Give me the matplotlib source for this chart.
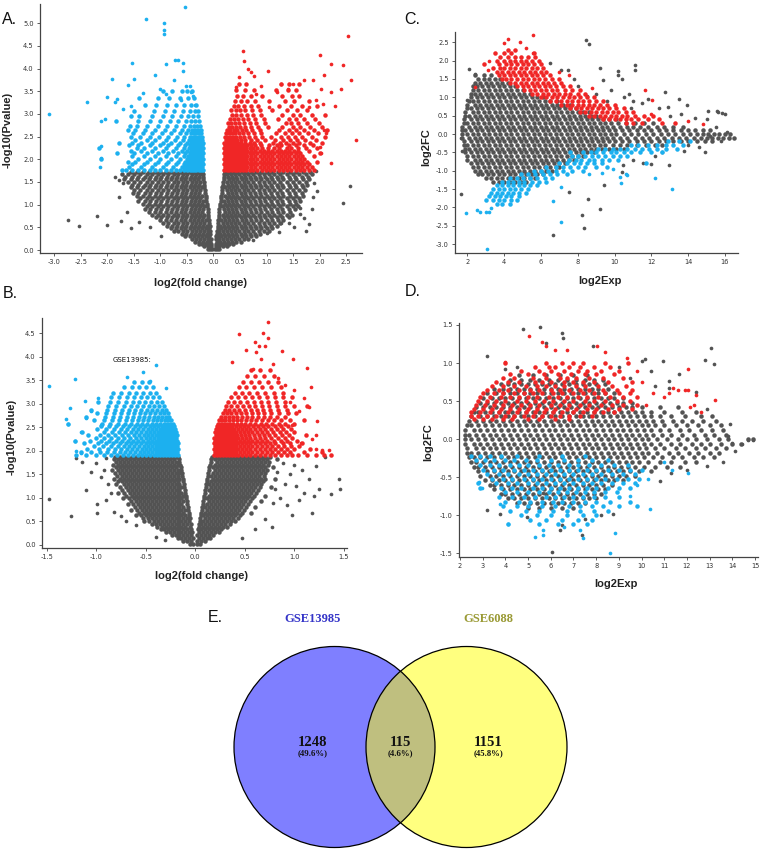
import numpy as np
import matplotlib
matplotlib.use("Agg")
import matplotlib.pyplot as plt
from matplotlib.patches import Circle

# ---------------- data ----------------
# rows format  "y: x1 x2 ..."   ;  pairs format "x,y x,y ..."
A_GRAY_L = """
0.03: -.02 -.06 -.1
0.08: -.05 -.11 -.18
0.13: -.04 -.08 -.15 -.22 -.28
0.18: -.06 -.13 -.2 -.27 -.35
0.24: -.05 -.11 -.18 -.25 -.33 -.41
0.30: -.08 -.15 -.22 -.29 -.37 -.45 -.53
0.36: -.06 -.13 -.2 -.27 -.35 -.43 -.51 -.6
0.42: -.07 -.11 -.18 -.25 -.33 -.41 -.49 -.57 -.66 -.75
0.48: -.08 -.15 -.22 -.29 -.37 -.45 -.53 -.62 -.71 -.8
0.54: -.07 -.13 -.2 -.27 -.35 -.43 -.51 -.6 -.69 -.78 -.88
0.60: -.09 -.18 -.25 -.33 -.41 -.49 -.57 -.66 -.75 -.85 -.95
0.66: -.09 -.15 -.22 -.29 -.37 -.45 -.53 -.62 -.71 -.8 -.9 -1.0
0.72: -.1 -.2 -.27 -.35 -.43 -.51 -.6 -.69 -.78 -.88 -.98 -1.08
0.78: -.1 -.18 -.25 -.33 -.41 -.49 -.57 -.66 -.75 -.85 -.95 -1.05 -1.15
0.84: -.11 -.22 -.29 -.37 -.45 -.53 -.62 -.71 -.8 -.9 -1.0 -1.1 -1.21
0.90: -.11 -.2 -.27 -.35 -.43 -.51 -.6 -.69 -.78 -.88 -.98 -1.08 -1.19 -1.3
0.96: -.12 -.18 -.25 -.33 -.41 -.49 -.57 -.66 -.75 -.85 -.95 -1.05 -1.15 -1.26
1.02: -.13 -.22 -.29 -.37 -.45 -.53 -.62 -.71 -.8 -.9 -1.0 -1.1 -1.21 -1.32
1.08: -.14 -.2 -.27 -.35 -.43 -.51 -.6 -.69 -.78 -.88 -.98 -1.08 -1.19 -1.3 -1.42
1.14: -.14 -.25 -.33 -.41 -.49 -.57 -.66 -.75 -.85 -.95 -1.05 -1.15 -1.26 -1.38
1.20: -.15 -.22 -.29 -.37 -.45 -.53 -.62 -.71 -.8 -.9 -1.0 -1.1 -1.21 -1.32 -1.44
1.26: -.16 -.27 -.35 -.43 -.51 -.6 -.69 -.78 -.88 -.98 -1.08 -1.19 -1.3 -1.42 -1.52
1.32: -.16 -.25 -.33 -.41 -.49 -.57 -.66 -.75 -.85 -.95 -1.05 -1.15 -1.26 -1.38 -1.5
1.38: -.17 -.22 -.29 -.37 -.45 -.53 -.62 -.71 -.8 -.9 -1.0 -1.1 -1.21 -1.32 -1.44 -1.56
1.44: -.18 -.27 -.35 -.43 -.51 -.6 -.69 -.78 -.88 -.98 -1.08 -1.19 -1.3 -1.42 -1.54
1.50: -.18 -.25 -.33 -.41 -.49 -.57 -.66 -.75 -.85 -.95 -1.05 -1.15 -1.26 -1.38 -1.5 -1.62
1.56: -.19 -.29 -.37 -.45 -.53 -.62 -.71 -.8 -.9 -1.0 -1.1 -1.21 -1.32 -1.44 -1.56 -1.68
1.62: -.19 -.27 -.35 -.43 -.51 -.6 -.69 -.78 -.88 -.98 -1.08 -1.19 -1.3 -1.42 -1.54 -1.66
1.68: -.2 -.25 -.33 -.41 -.49 -.57 -.66 -.75 -.85 -.95 -1.05 -1.15 -1.26 -1.38 -1.5 -1.62 -1.72
1.72: -.21 -.29 -.37 -.45 -.53 -.62 -.71 -.8 -.9 -1.0 -1.1 -1.21 -1.32 -1.44 -1.56
"""
A_GRAY_R = """
0.03: .02 .06 .1
0.08: .05 .11 .18 .25
0.13: .04 .08 .15 .22 .29 .37
0.18: .06 .13 .2 .27 .35 .43 .51
0.24: .05 .11 .18 .25 .33 .41 .49 .57 .66
0.30: .05 .08 .15 .22 .29 .37 .45 .53 .62 .71 .8
0.36: .06 .13 .2 .27 .35 .43 .51 .6 .69 .78 .88
0.42: .07 .11 .18 .25 .33 .41 .49 .57 .66 .75 .85 .95 1.05
0.48: .08 .15 .22 .29 .37 .45 .53 .62 .71 .8 .9 1.0 1.1
0.54: .08 .13 .2 .27 .35 .43 .51 .6 .69 .78 .88 .98 1.08 1.19
0.60: .09 .18 .25 .33 .41 .49 .57 .66 .75 .85 .95 1.05 1.15 1.26
0.66: .09 .15 .22 .29 .37 .45 .53 .62 .71 .8 .9 1.0 1.1 1.21 1.32
0.72: .1 .2 .27 .35 .43 .51 .6 .69 .78 .88 .98 1.08 1.19 1.3 1.42
0.78: .1 .18 .25 .33 .41 .49 .57 .66 .75 .85 .95 1.05 1.15 1.26 1.38 1.48
0.84: .11 .22 .29 .37 .45 .53 .62 .71 .8 .9 1.0 1.1 1.21 1.32 1.44
0.90: .11 .2 .27 .35 .43 .51 .6 .69 .78 .88 .98 1.08 1.19 1.3 1.42 1.54
0.96: .12 .18 .25 .33 .41 .49 .57 .66 .75 .85 .95 1.05 1.15 1.26 1.38 1.5 1.6
1.02: .13 .22 .29 .37 .45 .53 .62 .71 .8 .9 1.0 1.1 1.21 1.32 1.44 1.56
1.08: .14 .2 .27 .35 .43 .51 .6 .69 .78 .88 .98 1.08 1.19 1.3 1.42 1.54 1.64
1.14: .14 .25 .33 .41 .49 .57 .66 .75 .85 .95 1.05 1.15 1.26 1.38 1.5 1.62
1.20: .15 .22 .29 .37 .45 .53 .62 .71 .8 .9 1.0 1.1 1.21 1.32 1.44 1.56 1.68
1.26: .16 .27 .35 .43 .51 .6 .69 .78 .88 .98 1.08 1.19 1.3 1.42 1.54 1.66
1.32: .16 .25 .33 .41 .49 .57 .66 .75 .85 .95 1.05 1.15 1.26 1.38 1.5 1.62 1.73
1.38: .17 .22 .29 .37 .45 .53 .62 .71 .8 .9 1.0 1.1 1.21 1.32 1.44 1.56 1.68
1.44: .18 .27 .35 .43 .51 .6 .69 .78 .88 .98 1.08 1.19 1.3 1.42 1.54 1.66 1.77
1.50: .18 .25 .33 .41 .49 .57 .66 .75 .85 .95 1.05 1.15 1.26 1.38 1.5 1.62 1.74
1.56: .19 .29 .37 .45 .53 .62 .71 .8 .9 1.0 1.1 1.21 1.32 1.44 1.56 1.68 1.8
1.62: .19 .27 .35 .43 .51 .6 .69 .78 .88 .98 1.08 1.19 1.3 1.42 1.54 1.66 1.78
1.68: .2 .25 .33 .41 .49 .57 .66 .75 .85 .95 1.05 1.15 1.26 1.38 1.5 1.62 1.74 1.86
1.72: .21 .29 .37 .45 .53 .62 .71 .8 .9 1.0 1.1 1.21 1.32 1.44 1.56 1.68 1.82
"""
A_GRAY_X = """-2.74,.66 -2.54,.54 -2.19,.76 -2.01,.55 -1.75,.64 -1.56,.48 -1.63,.84 -1.79,1.17
-1.79,1.54 -1.71,1.48 -.99,.31 2.57,1.42 2.45,1.03 1.75,.42 1.81,.57 1.87,1.17 1.9,1.48 1.93,1.75
1.24,.39 1.01,.37 .74,.22 1.27,.59 1.43,.6 1.51,.51 1.63,.79 1.63,.92 -1.85,1.6 -1.2,.5 -1.4,.62
1.95,1.3 1.85,.9 1.7,.7"""
A_UP = """
1.77: .2 .25 .3 .35 .4 .45 .5 .55 .61 .68 .75 .83 .91 .99 1.07 1.15 1.23 1.31 1.39 1.47 1.55 1.63 1.71 1.8 1.9
1.83: .22 .27 .32 .37 .42 .47 .52 .58 .64 .71 .79 .87 .95 1.03 1.11 1.19 1.27 1.35 1.43 1.51 1.59 1.67 1.76 1.86
1.89: .2 .25 .3 .35 .4 .45 .5 .55 .61 .68 .75 .83 .91 .99 1.07 1.15 1.23 1.31 1.39 1.47 1.55 1.63 1.71 1.8
1.95: .22 .27 .32 .37 .42 .47 .52 .58 .64 .71 .79 .87 .95 1.03 1.11 1.19 1.27 1.35 1.43 1.51 1.59 1.67 1.76 1.95
2.01: .2 .25 .3 .35 .4 .45 .5 .55 .61 .68 .75 .83 .91 .99 1.07 1.15 1.23 1.31 1.39 1.47 1.55 1.63 1.71
2.07: .22 .27 .32 .37 .42 .47 .52 .58 .64 .71 .79 .87 .95 1.03 1.11 1.19 1.27 1.35 1.43 1.51 1.59 1.67 1.9
2.13: .2 .25 .3 .35 .4 .45 .5 .55 .61 .68 .75 .83 .91 .99 1.07 1.15 1.23 1.31 1.39 1.47 1.55 1.63 2.0
2.19: .22 .27 .32 .37 .42 .47 .52 .58 .64 .71 .79 .87 .95 1.03 1.11 1.19 1.27 1.35 1.43 1.51 1.59 1.8
2.25: .2 .25 .3 .35 .4 .45 .5 .55 .61 .68 .75 .83 .91 1.03 1.15 1.23 1.39 1.47 1.6 1.75 1.95
2.31: .22 .27 .32 .37 .42 .47 .52 .58 .64 .71 .79 .9 1.05 1.19 1.27 1.43 1.55 1.7 1.88
2.37: .2 .25 .3 .35 .4 .46 .52 .6 .68 .77 .88 1.12 1.25 1.36 1.5 1.62 1.82 2.05
2.43: .23 .28 .33 .39 .45 .52 .6 .7 .82 .97 1.16 1.31 1.44 1.58 1.72 1.94
2.50: .21 .26 .31 .37 .43 .5 .58 .67 .78 .92 1.08 1.28 1.4 1.53 1.66 1.86 2.1
2.57: .24 .29 .35 .41 .48 .56 .65 .76 .9 1.18 1.35 1.48 1.62 1.78 1.97
2.64: .26 .32 .38 .45 .53 .62 .73 .87 1.24 1.42 1.56 1.7 1.9 2.14
2.72: .29 .35 .42 .5 .59 .7 .84 1.02 1.3 1.5 1.64 1.82 2.05
2.80: .27 .33 .4 .48 .57 .68 .8 .98 1.36 1.46 1.6 1.76 1.98
2.89: .31 .38 .46 .55 .66 .78 .95 1.22 1.42 1.55 1.7 1.92
2.98: .35 .43 .52 .63 .75 .9 1.3 1.5 1.63 1.86 2.1
3.08: .33 .42 .5 .6 .72 .88 1.1 1.38 1.58 1.76
3.18: .38 .47 .58 .7 .84 1.24 1.46 1.66 1.95
3.29: .4 .52 .64 .78 1.05 1.35 1.52 1.8
3.40: .45 .56 .7 .92 1.3 1.48 1.62
3.52: .42 .6 .76 1.18 1.4 1.56
3.65: .48 .62 1.27 1.43 1.62
"""
A_UP_X = """.55,4.38 .58,4.16 .65,4.0 .71,3.93 .77,3.83 .49,3.82 .43,3.6 1.02,3.95 1.27,3.67 1.2,3.49
1.49,3.66 1.4,3.56 1.7,3.74 1.87,3.74 2.0,4.31 2.08,3.85 2.22,4.11 2.53,4.72 2.45,4.07 2.59,3.74
2.4,3.56 2.69,2.42 2.22,1.91 2.03,3.54 2.22,3.49 2.29,3.17 2.06,3.23 2.12,2.57 2.09,2.64 2.0,2.28
2.03,2.13 1.93,3.3 1.8,3.16 1.05,3.15 .8,3.45 .9,3.62"""
A_DOWN = """
1.77: -.2 -.24 -.28 -.32 -.36 -.4 -.45 -.5 -.56 -.63 -.71 -.8 -.9 -1.0 -1.1 -1.2 -1.31 -1.42 -1.53 -1.64 -1.73
1.83: -.22 -.26 -.3 -.34 -.38 -.43 -.48 -.53 -.6 -.76 -.95 -1.15 -1.37 -1.59
1.89: -.2 -.24 -.28 -.32 -.36 -.4 -.45 -.5 -.56 -.71 -.9 -1.1 -1.31 -1.53
1.95: -.22 -.26 -.3 -.34 -.38 -.43 -.48 -.53 -.67 -.85 -1.05 -1.26 -1.48 -1.62
2.01: -.2 -.24 -.28 -.32 -.36 -.4 -.45 -.5 -.63 -.8 -1.0 -1.2 -1.42 -2.12
2.07: -.22 -.26 -.3 -.34 -.38 -.43 -.48 -.56 -.71 -.9 -1.1 -1.31 -1.53
2.13: -.2 -.24 -.28 -.32 -.36 -.4 -.45 -.53 -.67 -.85 -1.05 -1.26 -1.5 -1.82
2.19: -.22 -.26 -.3 -.34 -.38 -.43 -.5 -.6 -.76 -.95 -1.15 -1.37 -1.56
2.25: -.2 -.24 -.28 -.32 -.36 -.41 -.47 -.56 -.71 -.9 -1.1 -1.31 -1.45 -2.15
2.31: -.22 -.26 -.3 -.34 -.39 -.45 -.53 -.67 -.85 -1.0 -1.2 -1.42 -1.6
2.37: -.2 -.24 -.28 -.32 -.37 -.43 -.5 -.63 -.8 -.95 -1.15 -1.37 -1.53 -1.78
2.43: -.22 -.26 -.3 -.35 -.4 -.47 -.58 -.72 -.9 -1.1 -1.26 -1.48
2.50: -.21 -.25 -.29 -.34 -.39 -.45 -.55 -.68 -.85 -1.02 -1.2 -1.38 -1.56
2.57: -.23 -.27 -.32 -.37 -.43 -.52 -.64 -.8 -.97 -1.15 -1.33 -1.52
2.65: -.24 -.29 -.34 -.4 -.48 -.6 -.75 -.92 -1.1 -1.3 -1.48 -1.62
2.74: -.26 -.31 -.37 -.45 -.56 -.7 -.87 -1.05 -1.25 -1.45 -1.57
2.84: -.28 -.34 -.42 -.52 -.66 -.82 -1.0 -1.2 -1.42 -1.84
2.95: -.3 -.38 -.48 -.62 -.78 -.95 -1.15 -1.4 -1.56
3.07: -.29 -.35 -.45 -.58 -.74 -.92 -1.12 -1.5
3.20: -.33 -.42 -.55 -.7 -.88 -1.08 -1.3
3.35: -.37 -.48 -.64 -.84 -1.05 -1.4
3.50: -.4 -.5 -.6 -.78 -.95
"""
A_DOWN_X = """-3.1,2.99 -2.38,3.27 -2.12,2.85 -2.05,2.88 -2.12,2.3 -2.12,2.02 -2.13,1.84 -2.0,3.38
-1.91,3.77 -1.86,3.27 -1.81,3.32 -1.61,3.63 -1.53,4.13 -1.5,3.78 -1.27,5.09 -1.11,3.85 -.94,5.01
-.94,4.86 -.94,4.77 -.9,4.11 -.75,3.74 -.73,4.2 -.66,4.2 -.58,4.13 -.58,3.94 -.53,5.36 -.51,3.61
-.45,3.61 -.89,3.44 -1.33,3.47 -1.55,3.18 -1.7,3.1 -.42,3.48 -.38,3.4 -.35,3.2 -.62,3.3 -1.0,3.55"""

B_GRAY_L = """
0.03: -.02 -.05
0.09: -.04 -.08 -.12
0.15: -.02 -.06 -.1 -.14 -.18
0.21: -.04 -.08 -.12 -.16 -.2 -.24
0.27: -.03 -.06 -.1 -.14 -.18 -.22 -.26 -.3
0.33: -.04 -.08 -.12 -.16 -.2 -.24 -.28 -.32 -.35
0.39: -.05 -.1 -.14 -.18 -.22 -.26 -.3 -.34 -.39
0.45: -.04 -.08 -.12 -.16 -.2 -.24 -.28 -.32 -.36 -.4 -.44
0.51: -.06 -.1 -.14 -.18 -.22 -.26 -.3 -.34 -.38 -.42 -.47 -.52
0.57: -.05 -.08 -.12 -.16 -.2 -.24 -.28 -.32 -.36 -.4 -.44 -.48 -.53
0.63: -.06 -.1 -.14 -.18 -.22 -.26 -.3 -.34 -.38 -.42 -.46 -.5 -.55 -.6
0.69: -.06 -.12 -.16 -.2 -.24 -.28 -.32 -.36 -.4 -.44 -.48 -.52 -.57
0.75: -.07 -.1 -.14 -.18 -.22 -.26 -.3 -.34 -.38 -.42 -.46 -.5 -.54 -.59 -.65
0.81: -.07 -.12 -.16 -.2 -.24 -.28 -.32 -.36 -.4 -.44 -.48 -.52 -.56 -.61
0.87: -.08 -.14 -.18 -.22 -.26 -.3 -.34 -.38 -.42 -.46 -.5 -.54 -.58 -.63 -.68
0.93: -.08 -.12 -.16 -.2 -.24 -.28 -.32 -.36 -.4 -.44 -.48 -.52 -.56 -.6 -.65
0.99: -.09 -.14 -.18 -.22 -.26 -.3 -.34 -.38 -.42 -.46 -.5 -.54 -.58 -.62 -.67 -.73
1.05: -.09 -.12 -.16 -.2 -.24 -.28 -.32 -.36 -.4 -.44 -.48 -.52 -.56 -.6 -.64 -.7
1.11: -.1 -.14 -.18 -.22 -.26 -.3 -.34 -.38 -.42 -.46 -.5 -.54 -.58 -.62 -.66 -.72 -.78
1.17: -.1 -.16 -.2 -.24 -.28 -.32 -.36 -.4 -.44 -.48 -.52 -.56 -.6 -.64 -.68 -.74
1.23: -.11 -.14 -.18 -.22 -.26 -.3 -.34 -.38 -.42 -.46 -.5 -.54 -.58 -.62 -.66 -.7 -.76
1.29: -.11 -.16 -.2 -.24 -.28 -.32 -.36 -.4 -.44 -.48 -.52 -.56 -.6 -.64 -.68 -.72 -.8
1.35: -.12 -.18 -.22 -.26 -.3 -.34 -.38 -.42 -.46 -.5 -.54 -.58 -.62 -.66 -.7 -.74 -.78
1.41: -.12 -.16 -.2 -.24 -.28 -.32 -.36 -.4 -.44 -.48 -.52 -.56 -.6 -.64 -.68 -.72 -.76 -.82
1.47: -.13 -.18 -.22 -.26 -.3 -.34 -.38 -.42 -.46 -.5 -.54 -.58 -.62 -.66 -.7 -.74 -.79
1.53: -.13 -.16 -.2 -.24 -.28 -.32 -.36 -.4 -.44 -.48 -.52 -.56 -.6 -.64 -.68 -.72 -.76 -.81
1.59: -.14 -.18 -.22 -.26 -.3 -.34 -.38 -.42 -.46 -.5 -.54 -.58 -.62 -.66 -.7 -.74 -.78 -.84
1.65: -.14 -.2 -.24 -.28 -.32 -.36 -.4 -.44 -.48 -.52 -.56 -.6 -.64 -.68 -.72 -.76 -.8
1.71: -.15 -.18 -.22 -.26 -.3 -.34 -.38 -.42 -.46 -.5 -.54 -.58 -.62 -.66 -.7 -.74 -.78 -.83
1.77: -.16 -.2 -.24 -.28 -.32 -.36 -.4 -.44 -.48 -.52 -.56 -.6 -.64 -.68 -.72 -.76 -.8
1.83: -.16 -.22 -.26 -.3 -.34 -.38 -.42 -.46 -.5 -.54 -.58 -.62 -.66 -.7 -.74 -.78 -.82
1.88: -.17 -.2 -.24 -.28 -.32 -.36 -.4 -.44 -.48 -.52 -.56 -.6 -.64 -.68 -.72 -.76 -.81
"""
B_GRAY_R = """
0.03: .02 .05
0.09: .02 .06 .1
0.15: .04 .08 .12 .15
0.21: .02 .06 .1 .14 .18
0.27: .04 .08 .12 .16 .2 .24
0.33: .03 .06 .1 .14 .18 .22 .26
0.39: .04 .08 .12 .16 .2 .24 .28 .32
0.45: .04 .06 .1 .14 .18 .22 .26 .3 .35
0.51: .05 .08 .12 .16 .2 .24 .28 .32 .36 .4
0.57: .05 .1 .14 .18 .22 .26 .3 .34 .38 .43
0.63: .06 .08 .12 .16 .2 .24 .28 .32 .36 .4 .45
0.69: .06 .1 .14 .18 .22 .26 .3 .34 .38 .42 .47 .56
0.75: .07 .12 .16 .2 .24 .28 .32 .36 .4 .44 .49
0.81: .07 .1 .14 .18 .22 .26 .3 .34 .38 .42 .46 .51 .6
0.87: .08 .12 .16 .2 .24 .28 .32 .36 .4 .44 .48 .53
0.93: .08 .14 .18 .22 .26 .3 .34 .38 .42 .46 .5 .55 .66
0.99: .09 .12 .16 .2 .24 .28 .32 .36 .4 .44 .48 .52 .57
1.05: .09 .14 .18 .22 .26 .3 .34 .38 .42 .46 .5 .54 .59 .7
1.11: .1 .16 .2 .24 .28 .32 .36 .4 .44 .48 .52 .56 .61
1.17: .1 .14 .18 .22 .26 .3 .34 .38 .42 .46 .5 .54 .58 .63
1.23: .11 .16 .2 .24 .28 .32 .36 .4 .44 .48 .52 .56 .6 .65 .76
1.29: .11 .14 .18 .22 .26 .3 .34 .38 .42 .46 .5 .54 .58 .62 .66
1.35: .12 .16 .2 .24 .28 .32 .36 .4 .44 .48 .52 .56 .6 .64 .68
1.41: .12 .18 .22 .26 .3 .34 .38 .42 .46 .5 .54 .58 .62 .66 .7 .8
1.47: .13 .16 .2 .24 .28 .32 .36 .4 .44 .48 .52 .56 .6 .64 .69
1.53: .13 .18 .22 .26 .3 .34 .38 .42 .46 .5 .54 .58 .62 .66 .7
1.59: .14 .2 .24 .28 .32 .36 .4 .44 .48 .52 .56 .6 .64 .68 .72
1.65: .14 .18 .22 .26 .3 .34 .38 .42 .46 .5 .54 .58 .62 .66 .7 .78
1.71: .15 .2 .24 .28 .32 .36 .4 .44 .48 .52 .56 .6 .64 .68 .73
1.77: .16 .22 .26 .3 .34 .38 .42 .46 .5 .54 .58 .62 .66 .7 .74
1.83: .16 .2 .24 .28 .32 .36 .4 .44 .48 .52 .56 .6 .64 .68 .72 .82
1.88: .17 .22 .26 .3 .34 .38 .42 .46 .5 .54 .58 .62 .66 .7 .75
"""
B_GRAY_X = """-1.48,.98 -1.25,.62 -1.2,1.84 -1.1,1.17 -1.14,1.77 -.99,.67 -.99,.87 -.6,.43 -.7,.5 -.4,.18
-.31,.11 -.92,1.6 -.88,1.3 -.95,1.45 -1.0,1.75 -.9,1.85 -.85,1.1 -.9,.95 -1.05,1.55 -.82,.7 -.75,.62
1.45,1.4 1.46,1.18 1.37,1.09 1.31,1.86 1.22,1.67 1.18,.67 1.1,1.1 .98,.64 .77,.39 .47,.14 .85,1.0
.9,1.3 .95,1.5 1.0,1.7 .88,1.75 .8,1.2 .92,.85 1.05,.95 1.15,1.4 1.25,1.2 1.2,1.05 .7,.55 .6,.35
1.08,1.6 .82,1.55 .78,.9 1.02,1.25"""
B_UP = """
1.92: .19 .22 .25 .28 .31 .34 .37 .4 .43 .47 .51 .55 .6 .65 .7 .75 .8 .86 .92 .98 1.04 1.13 1.22 1.3 1.37
1.98: .2 .23 .26 .29 .32 .35 .38 .41 .45 .49 .53 .57 .62 .67 .72 .77 .83 .89 .95 1.1 1.28
2.04: .19 .22 .25 .28 .31 .34 .37 .4 .43 .47 .51 .55 .6 .65 .7 .75 .8 .86 .92 1.0 1.16
2.10: .2 .23 .26 .29 .32 .35 .38 .41 .45 .49 .53 .57 .62 .67 .72 .77 .83 .89 .97 1.05
2.16: .19 .22 .25 .28 .31 .34 .37 .4 .43 .47 .51 .55 .6 .65 .7 .75 .8 .88 .95 1.08
2.22: .2 .23 .26 .29 .32 .35 .38 .41 .45 .49 .53 .57 .62 .67 .72 .79 .86 .92 1.03
2.28: .19 .22 .25 .28 .31 .34 .37 .4 .43 .47 .51 .55 .6 .65 .7 .76 .83 .9 .98
2.34: .21 .24 .27 .3 .33 .36 .39 .42 .46 .5 .54 .59 .64 .69 .74 .8 .87 .94 1.12
2.40: .2 .23 .26 .29 .32 .35 .38 .41 .45 .49 .53 .57 .62 .67 .72 .78 .85 .91 1.0
2.46: .21 .24 .27 .3 .33 .36 .39 .43 .47 .51 .55 .6 .65 .7 .76 .82 .88 .97
2.52: .22 .25 .28 .31 .34 .37 .41 .45 .49 .53 .58 .63 .68 .73 .8 .86 .93
2.58: .23 .26 .29 .32 .35 .38 .42 .46 .5 .55 .6 .66 .71 .77 .84 .9 1.0
2.65: .24 .27 .3 .34 .38 .42 .46 .51 .56 .61 .67 .73 .79 .86 .95 1.1
2.72: .26 .3 .34 .38 .42 .47 .52 .57 .63 .69 .75 .82 .9
2.80: .28 .32 .36 .41 .46 .51 .57 .63 .69 .76 .84 .93 1.02
2.88: .3 .34 .39 .44 .5 .56 .62 .68 .75 .83 .92
2.96: .31 .36 .42 .48 .54 .6 .67 .74 .82 .9 1.0 1.13
3.05: .33 .39 .45 .52 .59 .66 .73 .81 .9
3.14: .36 .43 .5 .57 .64 .72 .8 .88 .98
3.24: .4 .47 .54 .62 .7 .79 .88
3.35: .44 .51 .59 .67 .76 .86
3.47: .48 .56 .64 .73 .83
3.60: .52 .6 .69 .79
3.73: .56 .65 .75
"""
B_UP_X = """.73,4.75 .44,4.48 .68,4.5 .73,4.41 .6,4.32 .64,4.23 .51,4.15 .61,4.11 .7,4.23 .87,4.12
.37,3.9 .99,3.95 1.13,3.77 1.17,3.35 1.1,3.12 1.15,2.94 1.23,2.64 1.22,2.34 1.35,2.02 1.28,2.02
1.22,2.03 .93,2.8 .98,2.55 1.07,2.16 .83,3.55 .9,3.4 1.0,3.3 .95,3.05 1.05,2.85 1.18,2.25
.78,3.85 .66,3.95 .58,3.75"""
B_DOWN = """
1.92: -.18 -.21 -.24 -.27 -.3 -.33 -.36 -.39 -.42 -.46 -.5 -.54 -.58 -.63 -.68 -.73 -.79 -.85 -.92 -1.0 -1.1 -1.2
1.98: -.19 -.22 -.25 -.28 -.31 -.34 -.37 -.4 -.44 -.48 -.52 -.56 -.61 -.66 -.71 -.76 -.82 -.89 -.96 -1.05 -1.15
2.04: -.18 -.21 -.24 -.27 -.3 -.33 -.36 -.39 -.42 -.46 -.5 -.54 -.59 -.64 -.69 -.75 -.81 -.88 -.97 -1.09
2.10: -.19 -.22 -.25 -.28 -.31 -.34 -.37 -.4 -.44 -.48 -.52 -.57 -.62 -.67 -.72 -.78 -.85 -.93 -1.02
2.16: -.18 -.21 -.24 -.27 -.3 -.33 -.36 -.39 -.42 -.46 -.5 -.55 -.6 -.65 -.7 -.76 -.83 -.9 -.98 -1.12
2.22: -.19 -.22 -.25 -.28 -.31 -.34 -.37 -.4 -.44 -.48 -.53 -.58 -.63 -.68 -.74 -.8 -.87 -.95 -1.06 -1.21
2.28: -.2 -.23 -.26 -.29 -.32 -.35 -.38 -.42 -.46 -.5 -.55 -.6 -.66 -.72 -.78 -.85 -.92 -1.0
2.34: -.19 -.22 -.25 -.28 -.31 -.34 -.37 -.4 -.44 -.48 -.52 -.57 -.62 -.68 -.74 -.81 -.88 -.96 -1.08
2.40: -.2 -.23 -.26 -.29 -.32 -.35 -.38 -.42 -.46 -.5 -.55 -.6 -.65 -.71 -.77 -.84 -.92 -1.14
2.46: -.21 -.24 -.27 -.3 -.33 -.36 -.4 -.44 -.48 -.53 -.58 -.63 -.69 -.75 -.82 -.9 -.99
2.52: -.22 -.25 -.28 -.31 -.34 -.38 -.42 -.46 -.51 -.56 -.61 -.67 -.73 -.8 -.87 -.95
2.58: -.23 -.26 -.29 -.32 -.36 -.4 -.44 -.49 -.54 -.59 -.65 -.71 -.78 -.86 -.94 -1.28
2.65: -.25 -.28 -.31 -.35 -.39 -.43 -.48 -.53 -.58 -.64 -.7 -.77 -.84 -.92 -1.02
2.72: -.27 -.3 -.34 -.38 -.42 -.47 -.52 -.57 -.63 -.69 -.76 -.83 -.91 -1.1
2.80: -.28 -.32 -.36 -.41 -.46 -.51 -.56 -.62 -.68 -.75 -.82 -.9 -.99
2.88: -.3 -.34 -.39 -.44 -.49 -.55 -.61 -.67 -.74 -.81 -.89 -1.05
2.96: -.32 -.37 -.42 -.47 -.53 -.59 -.65 -.72 -.8 -.88
3.05: -.34 -.39 -.45 -.51 -.57 -.63 -.7 -.78 -.86 -.98
3.14: -.37 -.43 -.49 -.55 -.62 -.69 -.77 -.85
3.24: -.4 -.46 -.53 -.6 -.67 -.75 -.83
3.35: -.43 -.5 -.57 -.64 -.72
3.47: -.47 -.54 -.62
"""
B_DOWN_X = """-1.48,3.37 -1.21,3.53 -1.26,2.91 -1.3,2.67 -1.28,2.57 -1.21,2.22 -1.11,3.07 -.98,3.12
-.69,3.58 -.53,3.68 -.4,3.82 -.46,3.49 -.3,3.33 -1.15,1.95 -1.2,2.0 -1.1,2.7 -1.05,2.85 -1.15,2.4
-.95,2.55"""

C_GRAY = """
1.6: 2.4 2.9 3.3
1.5: 2.6 2.9 3.2 3.5 3.8
1.4: 2.4 2.7 3.0 3.3 3.6 3.9 4.2
1.3: 2.3 2.5 2.8 3.1 3.4 3.7 4.0 4.3 4.6
1.2: 2.3 2.6 2.9 3.2 3.5 3.8 4.1 4.4 4.7 5.0
1.1: 2.2 2.4 2.7 3.0 3.3 3.6 3.9 4.2 4.5 4.8 5.1 5.4
1.0: 2.2 2.5 2.8 3.1 3.4 3.7 4.0 4.3 4.6 4.9 5.2 5.5 5.8 6.1
0.9: 2.1 2.3 2.6 2.9 3.2 3.5 3.8 4.1 4.4 4.7 5.0 5.3 5.6 5.9 6.2 6.5 6.9
0.8: 2.0 2.4 2.7 3.0 3.3 3.6 3.9 4.2 4.5 4.8 5.1 5.4 5.7 6.0 6.3 6.6 6.9 7.2 7.6
0.7: 2.0 2.2 2.5 2.8 3.1 3.4 3.7 4.0 4.3 4.6 4.9 5.2 5.5 5.8 6.1 6.4 6.7 7.0 7.3 7.6 7.9
0.6: 1.9 2.3 2.6 2.9 3.2 3.5 3.8 4.1 4.4 4.7 5.0 5.3 5.6 5.9 6.2 6.5 6.8 7.1 7.4 7.7 8.0 8.3 8.6
0.5: 1.9 2.1 2.4 2.7 3.0 3.3 3.6 3.9 4.2 4.5 4.8 5.1 5.4 5.7 6.0 6.3 6.6 6.9 7.2 7.5 7.8 8.1 8.4 8.7 9.0
0.4: 1.8 2.2 2.5 2.8 3.1 3.4 3.7 4.0 4.3 4.6 4.9 5.2 5.5 5.8 6.1 6.4 6.7 7.0 7.3 7.6 7.9 8.2 8.5 8.8 9.1 9.4 9.7 10.1
0.3: 1.8 2.0 2.3 2.6 2.9 3.2 3.5 3.8 4.1 4.4 4.7 5.0 5.3 5.6 5.9 6.2 6.5 6.8 7.1 7.4 7.7 8.0 8.3 8.6 8.9 9.2 9.5 9.8 10.2 10.6 11.1 11.6 12.1
0.2: 1.7 2.1 2.4 2.7 3.0 3.3 3.6 3.9 4.2 4.5 4.8 5.1 5.4 5.7 6.0 6.3 6.6 6.9 7.2 7.5 7.8 8.1 8.4 8.7 9.0 9.3 9.6 9.9 10.3 10.7 11.0 11.4 11.8 12.3 12.7 13.2 13.7
0.1: 1.7 1.9 2.2 2.5 2.8 3.1 3.4 3.7 4.0 4.3 4.6 4.9 5.2 5.5 5.8 6.1 6.4 6.7 7.0 7.3 7.6 7.9 8.2 8.5 8.8 9.1 9.4 9.7 10.0 10.4 10.8 11.2 11.6 12.0 12.4 12.8 13.2 13.6 14.0 14.4 14.8 15.2
0.0: 1.7 2.0 2.3 2.6 2.9 3.2 3.5 3.8 4.1 4.4 4.7 5.0 5.3 5.6 5.9 6.2 6.5 6.8 7.1 7.4 7.7 8.0 8.3 8.6 8.9 9.2 9.5 9.8 10.1 10.5 10.9 11.3 11.7 12.1 12.5 12.9 13.3 13.7 14.1 14.5 14.8 15.1 15.4 15.7 16.0 16.3
-0.1: 1.7 2.1 2.4 2.7 3.0 3.3 3.6 3.9 4.2 4.5 4.8 5.1 5.4 5.7 6.0 6.3 6.6 6.9 7.2 7.5 7.8 8.1 8.4 8.7 9.0 9.3 9.6 9.9 10.3 10.7 11.1 11.5 11.9 12.3 12.7 13.1 13.5 13.9 14.3 14.7 15.0 15.3 15.6 15.9 16.2 16.5
-0.2: 1.8 2.2 2.5 2.8 3.1 3.4 3.7 4.0 4.3 4.6 4.9 5.2 5.5 5.8 6.1 6.4 6.7 7.0 7.3 7.6 7.9 8.2 8.5 8.8 9.1 9.4 9.7 10.0 10.4 10.8 11.2 11.6 12.0 12.4 12.8 13.2 13.6 14.0 14.5 14.9 15.3
-0.3: 1.8 2.0 2.3 2.6 2.9 3.2 3.5 3.8 4.1 4.4 4.7 5.0 5.3 5.6 5.9 6.2 6.5 6.8 7.1 7.4 7.7 8.0 8.3 8.6 8.9 9.2 9.5 9.9 10.3 10.7 11.2 11.7 12.2 12.6
-0.4: 1.9 2.1 2.4 2.7 3.0 3.3 3.6 3.9 4.2 4.5 4.8 5.1 5.4 5.7 6.0 6.3 6.6 6.9 7.2 7.5 7.8 8.1 8.4 8.7 9.0 9.3 9.7 10.1 10.5
-0.5: 1.9 2.2 2.5 2.8 3.1 3.4 3.7 4.0 4.3 4.6 4.9 5.2 5.5 5.8 6.1 6.4 6.7 7.0 7.3 7.6 7.9 8.2 8.5 8.9
-0.6: 2.0 2.3 2.6 2.9 3.2 3.5 3.8 4.1 4.4 4.7 5.0 5.3 5.6 5.9 6.2 6.5 6.8 7.1 7.4 7.7 8.0 8.3
-0.7: 2.0 2.4 2.7 3.0 3.3 3.6 3.9 4.2 4.5 4.8 5.1 5.4 5.7 6.0 6.3 6.6 6.9 7.2 7.5 7.8
-0.8: 2.2 2.5 2.8 3.1 3.4 3.7 4.0 4.3 4.6 4.9 5.2 5.5 5.8 6.1 6.4 6.7 7.0 7.3
-0.9: 2.3 2.6 2.9 3.2 3.5 3.8 4.1 4.4 4.7 5.0 5.3 5.6 5.9 6.2 6.5 6.8 7.0
-1.0: 2.4 2.7 3.0 3.3 3.6 3.9 4.2 4.5 4.8 5.1 5.4 5.7 6.0 6.3 6.6
-1.1: 2.6 2.8 3.1 3.4 3.7 4.0 4.3 4.6 4.9 5.2 5.5 5.8 6.1
-1.2: 3.0 3.3 3.6 3.9 4.2 4.5 4.8 5.1 5.4 5.7
-1.3: 3.4 3.7 4.0 4.3 4.6 4.9 5.2
"""
C_GRAY_X = """8.45,2.57 8.63,2.45 9.21,1.8 10.2,1.71 10.2,1.6 11.11,1.87 11.11,1.75 10.39,1.51 9.36,1.48
12.74,1.14 13.5,.96 13.92,.8 6.49,1.93 7.09,1.75 7.49,1.75 15.1,.64 15.55,.64 15.82,.57 16.0,.55
15.64,.6 14.92,-.5 12.96,-.85 11.96,-.82 11.57,-.79 10.48,-.85 10.42,-1.04 9.43,-1.4 9.21,-2.03
8.25,-2.21 8.34,-2.56 6.64,-2.76 7.54,-1.58 8.58,-1.76 1.66,-1.63 1.69,-.47 1.66,-.11 2.11,1.78
2.42,1.63 2.0,.93 8.0,1.3 8.5,1.05 9.0,1.1 9.8,1.2 10.5,1.0 11.0,.9 11.5,.85 12.4,.7 13.0,.5
7.8,1.5 10.8,1.1 11.8,.95 9.6,.9 10.9,.7 12.9,.75 13.6,.55 14.4,.45 15.0,.4 16.2,-.1 15.8,-.2
14.6,-.35 13.8,-.45 12.2,-.6 11.0,-.7 12.6,-.5 14.0,-.3 16.1,.05 15.5,.2 15.2,-.05"""
C_UP = """
2.3: 4.2 4.6
2.2: 3.5 4.0 4.4 5.6
2.1: 3.8 4.2 4.6 4.9 5.3 5.7
2.0: 3.6 4.0 4.3 4.6 4.9 5.2 5.5 5.9
1.9: 2.9 3.7 4.1 4.4 4.7 5.0 5.3 5.6 6.0
1.8: 3.4 3.8 4.0 4.3 4.6 4.9 5.2 5.5 5.8 6.1
1.7: 3.6 3.9 4.2 4.5 4.8 5.1 5.4 5.7 6.0 6.3
1.6: 3.7 4.0 4.3 4.6 4.9 5.2 5.5 5.8 6.1 6.5
1.5: 3.9 4.1 4.4 4.7 5.0 5.3 5.6 5.9 6.2 6.6 7.0
1.4: 4.3 4.6 4.9 5.2 5.5 5.8 6.1 6.4 6.7 7.1
1.3: 4.7 5.0 5.3 5.6 5.9 6.2 6.5 6.8 7.2 7.6
1.2: 5.1 5.4 5.7 6.0 6.3 6.6 6.9 7.3 7.7 8.1
1.1: 5.5 5.8 6.1 6.4 6.7 7.0 7.3 7.6 8.0 8.4
1.0: 6.0 6.3 6.6 6.9 7.2 7.5 7.8 8.1 8.5 8.9
0.9: 6.5 6.8 7.1 7.4 7.7 8.0 8.3 8.6 9.0 9.4
0.8: 7.1 7.4 7.7 8.0 8.3 8.6 8.9 9.2 9.6 10.0
0.7: 7.6 7.9 8.2 8.5 8.8 9.1 9.4 9.7 10.1 10.5
0.6: 8.1 8.4 8.7 9.0 9.3 9.6 9.9 10.2 10.6 11.0
0.5: 8.6 8.9 9.2 9.5 9.8 10.1 10.4 10.7 11.1 11.6 12.1
0.4: 9.4 9.7 10.0 10.3 10.6 10.9 11.3 11.8 12.4
0.3: 10.6 11.0 11.5 12.6 13.3
"""
C_UP_X = """5.59,2.69 4.23,2.59 4.86,2.5 4.01,2.48 2.42,1.27 5.59,2.22 11.66,1.19 12.02,.92 14.83,.28
14.0,.35 12.0,.55 11.8,.4 5.2,2.35 3.2,2.0 7.5,1.6 8.8,1.25 7.0,1.7 3.1,1.75"""
C_DOWN = """
-0.2: 12.9 13.5 14.1
-0.3: 10.9 11.3 11.8 12.3 12.8 13.2 13.7
-0.4: 9.1 9.5 9.9 10.3 10.7 11.1 11.5 11.9 12.3 12.8 13.4
-0.5: 7.6 8.3 8.7 9.0 9.4 9.8 10.1 10.5 10.9 11.4 12.0 12.6
-0.6: 7.7 8.0 8.4 8.8 9.1 9.5 9.9 10.3 10.7
-0.7: 7.5 7.9 8.2 8.6 8.9 9.3 9.7 10.2
-0.8: 7.0 7.4 7.8 8.1 8.5 8.9 9.3 11.7
-0.9: 6.3 6.8 7.2 7.6 8.0 8.4 9.0 9.6
-1.0: 5.6 6.0 6.4 6.8 7.2 7.7 8.3
-1.1: 4.9 5.3 5.7 6.1 6.5 6.9 7.4
-1.2: 4.3 4.7 5.0 5.4 5.8 6.2 6.6
-1.3: 3.9 4.2 4.5 4.8 5.1 5.5 5.9 6.3
-1.4: 3.6 3.9 4.2 4.5 4.8 5.1 5.4 5.8
-1.5: 3.4 3.7 4.0 4.3 4.6 4.9 5.3
-1.6: 3.3 3.6 3.9 4.2 4.5 4.8 5.2
-1.7: 3.2 3.5 3.8 4.1 4.4 4.8
-1.8: 3.0 3.4 3.7 4.0 4.4 4.7
-1.9: 3.6 3.9 4.3
"""
C_DOWN_X = """1.93,-2.15 2.51,-2.08 2.69,-2.11 3.01,-2.11 3.2,-2.11 3.29,-2.01 3.05,-3.13 6.64,-1.81
7.09,-2.4 7.07,-1.45 10.3,-1.17 10.33,-1.32 12.2,-1.2 13.1,-1.5 10.66,-1.11 9.3,-1.05 8.6,-1.1 9.9,-.95
10.6,-1.1"""

D_GRAY = """
0.84: 4.6 5.2 5.8 6.4 7.0 7.6
0.78: 4.2 4.7 5.1 5.5 5.9 6.3 6.7 7.1 7.5 7.9 8.3
0.72: 3.8 4.1 4.4 4.7 5.0 5.3 5.6 5.9 6.2 6.5 6.8 7.1 7.4 7.7 8.0 8.4
0.66: 3.5 3.9 4.2 4.5 4.8 5.1 5.4 5.7 6.0 6.3 6.6 6.9 7.2 7.5 7.8 8.1 8.5
0.60: 3.2 3.6 3.9 4.2 4.5 4.8 5.1 5.4 5.7 6.0 6.3 6.6 6.9 7.2 7.5 7.8 8.1 8.4 8.8
0.54: 3.0 3.4 3.7 4.0 4.3 4.6 4.9 5.2 5.5 5.8 6.1 6.4 6.7 7.0 7.3 7.6 7.9 8.2 8.5 8.8 9.2
0.48: 2.9 3.2 3.5 3.8 4.1 4.4 4.7 5.0 5.3 5.6 5.9 6.2 6.5 6.8 7.1 7.4 7.7 8.0 8.3 8.6 8.9 9.2 9.6
0.42: 2.7 3.0 3.3 3.6 3.9 4.2 4.5 4.8 5.1 5.4 5.7 6.0 6.3 6.6 6.9 7.2 7.5 7.8 8.1 8.4 8.7 9.0 9.3 9.6 10.0 10.8 11.6
0.36: 2.6 2.8 3.1 3.4 3.7 4.0 4.3 4.6 4.9 5.2 5.5 5.8 6.1 6.4 6.7 7.0 7.3 7.6 7.9 8.2 8.5 8.8 9.1 9.4 9.7 10.0 10.4 11.0 11.8 12.4
0.30: 2.5 2.9 3.2 3.5 3.8 4.1 4.4 4.7 5.0 5.3 5.6 5.9 6.2 6.5 6.8 7.1 7.4 7.7 8.0 8.3 8.6 8.9 9.2 9.5 9.8 10.1 10.4 10.8 11.3 11.9 12.6 13.1
0.24: 2.4 2.7 3.0 3.3 3.6 3.9 4.2 4.5 4.8 5.1 5.4 5.7 6.0 6.3 6.6 6.9 7.2 7.5 7.8 8.1 8.4 8.7 9.0 9.3 9.6 9.9 10.2 10.5 10.9 11.4 11.8 12.2 12.7 13.3
0.18: 2.3 2.5 2.8 3.1 3.4 3.7 4.0 4.3 4.6 4.9 5.2 5.5 5.8 6.1 6.4 6.7 7.0 7.3 7.6 7.9 8.2 8.5 8.8 9.1 9.4 9.7 10.0 10.3 10.6 11.0 11.5 12.0 12.5 13.0 13.5
0.12: 2.2 2.6 2.9 3.2 3.5 3.8 4.1 4.4 4.7 5.0 5.3 5.6 5.9 6.2 6.5 6.8 7.1 7.4 7.7 8.0 8.3 8.6 8.9 9.2 9.5 9.8 10.1 10.4 10.8 11.2 11.7 12.1 12.6 13.1 13.6
0.06: 2.2 2.4 2.7 3.0 3.3 3.6 3.9 4.2 4.5 4.8 5.1 5.4 5.7 6.0 6.3 6.6 6.9 7.2 7.5 7.8 8.1 8.4 8.7 9.0 9.3 9.6 9.9 10.2 10.5 10.9 11.3 11.8 12.3 12.8 13.2 13.7
0.00: 2.2 2.5 2.8 3.1 3.4 3.7 4.0 4.3 4.6 4.9 5.2 5.5 5.8 6.1 6.4 6.7 7.0 7.3 7.6 7.9 8.2 8.5 8.8 9.1 9.4 9.7 10.0 10.3 10.7 11.1 11.6 12.0 12.4 12.9 13.4 13.8 14.7 14.9
-0.06: 2.2 2.6 2.9 3.2 3.5 3.8 4.1 4.4 4.7 5.0 5.3 5.6 5.9 6.2 6.5 6.8 7.1 7.4 7.7 8.0 8.3 8.6 8.9 9.2 9.5 9.8 10.1 10.4 10.8 11.3 11.7 12.2 12.6 13.0 13.5 14.0 14.4
-0.12: 2.3 2.7 3.0 3.3 3.6 3.9 4.2 4.5 4.8 5.1 5.4 5.7 6.0 6.3 6.6 6.9 7.2 7.5 7.8 8.1 8.4 8.7 9.0 9.3 9.6 9.9 10.2 10.6 11.0 11.5 11.9 12.4 12.8 13.3 13.7
-0.18: 2.3 2.5 2.8 3.1 3.4 3.7 4.0 4.3 4.6 4.9 5.2 5.5 5.8 6.1 6.4 6.7 7.0 7.3 7.6 7.9 8.2 8.5 8.8 9.1 9.4 9.7 10.0 10.3 10.7 11.2 11.6 12.1 12.5 13.0 13.4
-0.24: 2.4 2.6 2.9 3.2 3.5 3.8 4.1 4.4 4.7 5.0 5.3 5.6 5.9 6.2 6.5 6.8 7.1 7.4 7.7 8.0 8.3 8.6 8.9 9.2 9.5 9.8 10.1 10.5 10.9 11.4 11.8 12.3 12.7 13.2
-0.30: 2.5 2.7 3.0 3.3 3.6 3.9 4.2 4.5 4.8 5.1 5.4 5.7 6.0 6.3 6.6 6.9 7.2 7.5 7.8 8.1 8.4 8.7 9.0 9.3 9.6 9.9 10.3 10.8 11.3 11.9 12.4
-0.36: 2.6 2.8 3.1 3.4 3.7 4.0 4.3 4.6 4.9 5.2 5.5 5.8 6.1 6.4 6.7 7.0 7.3 7.6 7.9 8.2 8.5 8.8 9.1 9.4 9.7 10.1 10.6 11.1 11.7
-0.42: 2.8 3.2 3.5 3.8 4.1 4.4 4.7 5.0 5.3 5.6 5.9 6.2 6.5 6.8 7.1 7.4 7.7 8.0 8.3 8.6 8.9 9.2 9.5 9.9 10.4
-0.48: 2.9 3.3 3.6 3.9 4.2 4.5 4.8 5.1 5.4 5.7 6.0 6.3 6.6 6.9 7.2 7.5 7.8 8.1 8.4 8.7 9.0 9.3 9.7
-0.54: 3.1 3.4 3.7 4.0 4.3 4.6 4.9 5.2 5.5 5.8 6.1 6.4 6.7 7.0 7.3 7.6 7.9 8.2 8.5 8.8 9.2
-0.60: 3.3 3.5 3.8 4.1 4.4 4.7 5.0 5.3 5.6 5.9 6.2 6.5 6.8 7.1 7.4 7.7 8.0 8.3 8.7
-0.66: 3.5 3.9 4.2 4.5 4.8 5.1 5.4 5.7 6.0 6.3 6.6 6.9 7.2 7.5 7.8 8.1 8.4
-0.72: 3.8 4.0 4.3 4.6 4.9 5.2 5.5 5.8 6.1 6.4 6.7 7.0 7.3 7.6 7.9 8.2
-0.78: 4.1 4.4 4.7 5.0 5.3 5.6 5.9 6.2 6.5 6.8 7.1 7.4 7.7 8.0
-0.84: 4.5 4.8 5.1 5.4 5.7 6.0 6.3 6.6 6.9 7.2 7.5
-0.90: 5.0 5.5 6.0 6.5 7.0
"""
D_GRAY_X = """4.79,1.45 5.52,1.47 6.48,1.39 6.52,1.33 3.18,1.09 5.77,1.26 7.87,1.23 10.15,1.05 10.0,1.03
10.94,1.03 10.4,.9 12.79,1.04 13.2,.99 13.08,1.2 11.66,.85 11.19,.76 11.22,.67 3.18,-.93 3.76,-.99
4.94,-1.02 6.48,-1.13 6.4,-1.2 6.04,-1.48 7.36,-1.26 8.76,-.98 5.67,-.71 13.97,-.05 14.41,-.06
14.7,-.01 14.9,-.01 13.82,.04 4.0,.92 4.5,.95 9.0,.95 9.5,.8 10.6,.7 12.4,.62 12.9,.4 13.9,.2
14.1,-.15 13.6,-.3 12.9,-.35 12.0,-.4 11.3,-.45 10.8,-.55 7.5,-1.05 8.2,-1.0"""
D_UP = """
1.00: 4.0 5.8 6.5 7.0 7.4 8.4 9.4
0.95: 5.3 5.9 6.2 6.8 7.3 7.9 8.6
0.90: 4.7 5.5 6.0 6.6 7.2 7.6 8.2 9.0
0.85: 4.2 5.0 5.7 6.3 6.9 7.5 8.0 8.8
0.80: 3.9 4.4 5.2 5.8 6.4 6.7 7.1 7.7 8.3 9.2
0.75: 3.6 4.1 4.6 5.3 5.6 6.0 6.6 7.0 7.4 7.9 8.5 9.6
0.70: 3.4 3.9 4.4 4.9 5.4 5.8 6.2 6.6 7.1 7.5 8.1 8.7 9.3
0.65: 3.2 3.7 4.1 4.6 5.1 5.5 6.0 6.4 6.8 7.3 7.7 8.3 8.9 9.6
0.60: 3.0 3.5 3.9 4.4 4.8 5.2 5.6 6.1 6.5 7.0 7.4 7.9 8.4 9.0 9.5
0.55: 2.9 3.3 3.8 4.2 4.6 5.0 5.4 5.9 6.3 6.7 7.2 7.6 8.1 8.6 9.2 9.8
0.50: 2.8 3.2 3.6 4.0 4.5 4.9 5.3 5.7 6.1 6.6 7.0 7.5 7.9 8.4 8.9 9.5
0.45: 2.7 3.1 3.5 3.9 4.3 4.7 5.1 5.5 6.0 6.4 6.8 7.3 7.7 8.2 8.7 9.2 9.8
0.40: 2.6 3.0 3.4 3.8 4.2 4.6 5.0 5.4 5.8 6.2 6.7 7.1 7.6 8.0 8.5 9.0 9.6
0.35: 2.5 2.9 3.3 3.7 4.1 4.5 4.9 5.3 5.7 6.1 6.5 7.0 7.4 7.9 8.3 8.8
0.30: 2.5 2.8 3.2 3.6 4.0 4.4 4.8 5.2 5.6 6.0 6.4 6.8 7.3 7.8
0.26: 2.6 3.0 3.4 3.9 4.3 5.0 5.5 6.2 6.8
"""
D_UP_X = """5.05,1.36 5.6,1.28 5.78,1.23 6.18,1.17 6.73,1.17 8.03,1.23 8.4,1.14 3.98,1.02 9.38,1.06
12.06,.92 13.22,.51 11.4,.67 11.6,.64 11.9,.65 12.06,.65 12.42,.58 11.2,.6 12.3,.45 12.6,.35
11.0,.55 10.5,.6 10.2,.45 12.15,.42 10.0,.75 9.8,.9"""
D_DOWN = """
-0.22: 2.5 2.9 3.3 3.8 4.5 5.5 6.5 7.5
-0.28: 2.7 3.1 3.5 4.0 4.4 4.9 5.4 6.0 6.6 7.2 7.8 8.5
-0.34: 2.9 3.3 3.7 4.2 4.6 5.0 5.5 5.9 6.3 6.8 7.2 7.7 8.2 8.8 9.4
-0.40: 3.0 3.5 3.9 4.4 4.8 5.2 5.6 6.0 6.4 6.8 7.2 7.6 8.0 8.5 9.0 9.5 10.0
-0.46: 3.2 3.7 4.1 4.6 5.0 5.4 5.8 6.2 6.6 7.0 7.4 7.8 8.2 8.7 9.2 9.7
-0.52: 3.4 3.9 4.3 4.8 5.2 5.6 6.0 6.4 6.8 7.2 7.6 8.0 8.4 8.9 9.4 9.9
-0.58: 2.8 3.6 4.1 4.5 5.0 5.4 5.8 6.2 6.6 7.0 7.4 7.8 8.2 8.7 9.2 9.7
-0.64: 2.9 3.8 4.3 4.7 5.2 5.6 6.0 6.4 6.8 7.2 7.6 8.0 8.5 9.0 9.5
-0.70: 4.0 4.5 5.0 5.5 5.9 6.3 6.7 7.1 7.5 7.9 8.4 8.9
-0.76: 3.7 4.3 4.8 5.3 5.8 6.2 6.6 7.0 7.4 7.9 8.4 9.0
-0.82: 4.0 4.6 5.1 5.6 6.1 6.5 7.0 7.5 8.0 8.6 9.5
-0.88: 3.9 4.5 5.0 5.6 6.2 6.8 7.3 7.8 8.3 9.0 9.8
-0.94: 4.2 4.9 5.5 6.1 6.7 7.3 7.9 8.5
-1.00: 4.7 5.4 6.0 6.7 7.4 8.0
-1.06: 5.1 5.8 6.5 7.2 7.8
-1.12: 4.1 5.5 6.3 7.0 7.6
"""
D_DOWN_X = """4.1,-1.12 5.3,-1.29 5.64,-1.26 5.64,-1.2 7.4,-1.3 8.6,-1.49 8.83,-1.23 10.37,-.92 11.35,-.4
12.06,-.44 2.85,-.56 2.95,-.64 3.76,-.85 9.8,-.6 10.3,-.52 9.5,-.75 11.0,-.3 7.3,-1.2 6.6,-1.15"""

A_XTICKS = [-3.0, -2.5, -2.0, -1.5, -1.0, -0.5, 0.0, 0.5, 1.0, 1.5, 2.0, 2.5]
A_YTICKS = [0.0, 0.5, 1.0, 1.5, 2.0, 2.5, 3.0, 3.5, 4.0, 4.5, 5.0]
B_XTICKS = [-1.5, -1.0, -0.5, 0.0, 0.5, 1.0, 1.5]
B_YTICKS = [0.0, 0.5, 1.0, 1.5, 2.0, 2.5, 3.0, 3.5, 4.0, 4.5]
C_XTICKS = [2, 4, 6, 8, 10, 12, 14, 16]
C_YTICKS = [-3.0, -2.5, -2.0, -1.5, -1.0, -0.5, 0.0, 0.5, 1.0, 1.5, 2.0, 2.5]
D_XTICKS = [2, 3, 4, 5, 6, 7, 8, 9, 10, 11, 12, 13, 14, 15]
D_YTICKS = [-1.5, -1.0, -0.5, 0.0, 0.5, 1.0, 1.5]

VENN_SETS = ["GSE13985", "GSE6088"]
VENN_COUNTS = [1248, 115, 1151]
VENN_PCTS = ["49.6%", "4.6%", "45.8%"]


def rows(txt):
    xs, ys = [], []
    for line in txt.strip().splitlines():
        y, vals = line.split(":")
        for v in vals.split():
            xs.append(float(v))
            ys.append(float(y))
    return np.array(xs), np.array(ys)


def pairs(txt):
    a = np.array(txt.replace(",", " ").split(), dtype=float).reshape(-1, 2)
    return a[:, 0], a[:, 1]


# ---------------- figure ----------------
W, H = 761, 849
fig = plt.figure(figsize=(W / 100, H / 100), dpi=100)
fig.patch.set_facecolor("white")

GRAY, RED, BLUE = "#535353", "#f02626", "#1cb0ef"
S_DENSE, S_SPARSE = 10.5, 7
TICKFONT = dict(family="DejaVu Sans", size=4.8, color="#333333")
LABFONT = dict(family="Liberation Sans", size=8, weight="bold", color="#222222")


def px_axes(l, t, r, b):
    return fig.add_axes([l / W, 1 - b / H, (r - l) / W, (b - t) / H])


def style(ax, xt, yt, xlim, ylim, fmtx, fmty):
    ax.set_xlim(*xlim)
    ax.set_ylim(*ylim)
    for s in ["top", "right"]:
        ax.spines[s].set_visible(False)
    for s in ["left", "bottom"]:
        ax.spines[s].set_color("#444444")
        ax.spines[s].set_linewidth(0.9)
    ax.set_xticks(xt)
    ax.set_yticks(yt)
    ax.set_xticklabels([fmtx.format(v) for v in xt], fontdict=TICKFONT)
    ax.set_yticklabels([fmty.format(v) for v in yt], fontdict=TICKFONT)
    ax.tick_params(length=2.5, width=0.6, color="#444444", pad=2)
    ax.patch.set_alpha(0)


def layer(ax, dense, sparse, color):
    ax.scatter(dense[0], dense[1], s=S_DENSE, c=color, linewidths=0, zorder=3)
    ax.scatter(sparse[0], sparse[1], s=S_SPARSE, c=color, linewidths=0, zorder=3)


def cat(*parts):
    return (np.concatenate([p[0] for p in parts]), np.concatenate([p[1] for p in parts]))


def ftext(x, y, s, **kw):
    fig.text(x / W, 1 - y / H, s, **kw)


# Panel A
axA = px_axes(40, 4, 362, 253)
layer(axA, cat(rows(A_GRAY_L), rows(A_GRAY_R)), pairs(A_GRAY_X), GRAY)
layer(axA, rows(A_DOWN), pairs(A_DOWN_X), BLUE)
layer(axA, rows(A_UP), pairs(A_UP_X), RED)
style(axA, A_XTICKS, A_YTICKS, (-3.27, 2.80), (-0.066, 5.425), "{:.1f}", "{:.1f}")

# Panel C
axC = px_axes(455, 32, 738, 253)
layer(axC, rows(C_GRAY), pairs(C_GRAY_X), GRAY)
layer(axC, rows(C_DOWN), pairs(C_DOWN_X), BLUE)
layer(axC, rows(C_UP), pairs(C_UP_X), RED)
style(axC, C_XTICKS, C_YTICKS, (1.33, 16.71), (-3.24, 2.78), "{:d}", "{:.1f}")

# Panel B
axB = px_axes(42, 318, 347, 548)
layer(axB, cat(rows(B_GRAY_L), rows(B_GRAY_R)), pairs(B_GRAY_X), GRAY)
layer(axB, rows(B_DOWN), pairs(B_DOWN_X), BLUE)
layer(axB, rows(B_UP), pairs(B_UP_X), RED)
style(axB, B_XTICKS, B_YTICKS, (-1.547, 1.53), (-0.064, 4.825), "{:.1f}", "{:.1f}")
axB.text(-0.83, 3.93, "GSE13985:", fontsize=5, family="DejaVu Sans", color="#111111",
         va="center", ha="left", zorder=5)

# Panel D
axD = px_axes(459, 323, 758, 557)
layer(axD, rows(D_GRAY), pairs(D_GRAY_X), GRAY)
layer(axD, rows(D_DOWN), pairs(D_DOWN_X), BLUE)
layer(axD, rows(D_UP), pairs(D_UP_X), RED)
style(axD, D_XTICKS, D_YTICKS, (1.956, 15.13), (-1.549, 1.526), "{:d}", "{:.1f}")

# axis labels
ftext(200, 283, "log2(fold change)", ha="center", va="center", **LABFONT)
ftext(202, 576, "log2(fold change)", ha="center", va="center", **LABFONT)
ftext(8, 130, "-log10(Pvalue)", ha="center", va="center", rotation=90, **LABFONT)
ftext(12, 437, "-log10(Pvalue)", ha="center", va="center", rotation=90, **LABFONT)
ftext(600, 281, "log2Exp", ha="center", va="center", **LABFONT)
ftext(616, 584, "log2Exp", ha="center", va="center", **LABFONT)
ftext(426, 147, "log2FC", ha="center", va="center", rotation=90, **LABFONT)
ftext(428, 442, "log2FC", ha="center", va="center", rotation=90, **LABFONT)

# panel letters
PL = dict(family="Liberation Sans", size=11.5, color="#111111", va="center", ha="left")
ftext(2, 20, "A.", **PL)
ftext(404, 20, "C.", **PL)
ftext(3, 293, "B.", **PL)
ftext(405, 292, "D.", **PL)
ftext(208, 617, "E.", **PL)

# Venn diagram (pixel coordinates)
axV = fig.add_axes([0, 0, 1, 250 / H])
axV.set_xlim(0, W)
axV.set_ylim(H, H - 250)
axV.axis("off")
axV.add_patch(Circle((334.5, 747), 100.5, facecolor="#0000ff", alpha=0.5, edgecolor="none"))
axV.add_patch(Circle((466.5, 747), 100.5, facecolor="#ffff00", alpha=0.5, edgecolor="none"))
axV.add_patch(Circle((334.5, 747), 100.5, facecolor="none", edgecolor="black", linewidth=0.9))
axV.add_patch(Circle((466.5, 747), 100.5, facecolor="none", edgecolor="black", linewidth=0.9))
SERIF = "Liberation Serif"
ftext(313, 619, VENN_SETS[0], ha="center", va="center", family=SERIF, weight="bold",
      size=9, color="#3535c8")
ftext(488, 619, VENN_SETS[1], ha="center", va="center", family=SERIF, weight="bold",
      size=9, color="#9a9a35")
for cx, n, p in zip([313, 400, 488], VENN_COUNTS, VENN_PCTS):
    ftext(cx, 742, str(n), ha="center", va="center", family=SERIF, weight="bold",
          size=10.5, color="#111111")
    ftext(cx, 753, "(" + p + ")", ha="center", va="center", family=SERIF, weight="bold",
          size=6.3, color="#111111")

fig.savefig("out.png", dpi=100)
